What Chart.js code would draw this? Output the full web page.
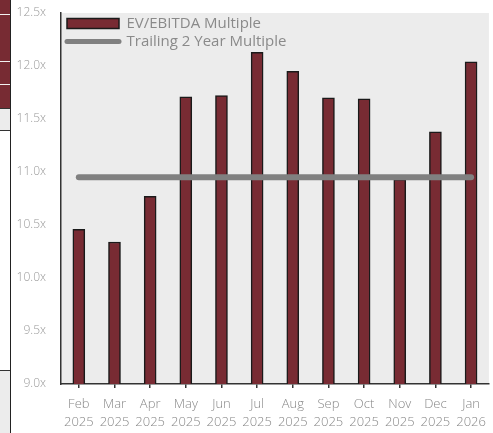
<!DOCTYPE html>
<html>
<head>
<meta charset="utf-8">
<script src="https://cdn.jsdelivr.net/npm/chart.js@4"></script>
<style>
  html, body { margin: 0; padding: 0; background: #ffffff; }
  #wrap { position: relative; width: 493px; height: 433px; overflow: hidden; }
  #wrap canvas { position: absolute; left: 0; top: 0; }
  .strip { position: absolute; left: 0; width: 10px; }
</style>
</head>
<body>
<div id="wrap">
  <!-- cropped neighbouring element on the left edge -->
  <div class="strip" style="top:0;height:108px;background:#772b33;"></div>
  <div class="strip" style="top:14px;height:1px;background:#f2f2f2;"></div>
  <div class="strip" style="top:61px;height:1px;background:#f2f2f2;"></div>
  <div class="strip" style="top:84px;height:1px;background:#f2f2f2;"></div>
  <div class="strip" style="top:108px;height:23px;background:#ececec;border-top:1px solid #333;border-bottom:1px solid #333;box-sizing:border-box;"></div>
  <div class="strip" style="top:370px;height:63px;background:#ececec;border-top:1px solid #333;box-sizing:border-box;"></div>
  <div style="position:absolute;left:10px;top:0;width:1px;height:433px;background:#222;"></div>
  <canvas id="c" width="493" height="433"></canvas>
</div>
<script>
const categories = [
  ['Feb', '2025'], ['Mar', '2025'], ['Apr', '2025'], ['May', '2025'],
  ['Jun', '2025'], ['Jul', '2025'], ['Aug', '2025'], ['Sep', '2025'],
  ['Oct', '2025'], ['Nov', '2025'], ['Dec', '2025'], ['Jan', '2026']
];
const evEbitda = [10.46, 10.34, 10.77, 11.71, 11.72, 12.13, 11.95, 11.70, 11.69, 10.93, 11.38, 12.04];
const trailing2Year = [10.95, 10.95, 10.95, 10.95, 10.95, 10.95, 10.95, 10.95, 10.95, 10.95, 10.95, 10.95];
const yMin = 9.0, yMax = 12.5, yStep = 0.5;

const BAR = '#782b33';
const LINE = '#808080';

const plotBg = {
  id: 'plotBg',
  afterLayout(chart) {
    // keep the legend inside the top-left corner of the plot area
    const l = chart.legend, a = chart.chartArea;
    if (l) {
      l.top = a.top;
      l.bottom = a.bottom;
      l.left = a.left + 3;
    }
  },
  beforeDraw(chart) {
    const a = chart.chartArea, ctx = chart.ctx;
    ctx.save();
    ctx.fillStyle = '#ececec';
    ctx.fillRect(a.left, a.top, a.right - a.left, a.bottom - a.top);
    ctx.restore();
  }
};

new Chart(document.getElementById('c'), {
  data: {
    labels: categories,
    datasets: [
      {
        type: 'bar',
        label: 'EV/EBITDA Multiple',
        data: evEbitda,
        backgroundColor: BAR,
        borderColor: '#1a1a1a',
        borderWidth: 1.5,
        barThickness: 12,
        order: 1
      },
      {
        type: 'line',
        label: 'Trailing 2 Year Multiple',
        data: trailing2Year,
        borderColor: LINE,
        backgroundColor: LINE,
        borderWidth: 6,
        borderCapStyle: 'round',
        pointRadius: 0,
        pointHoverRadius: 0,
        tension: 0,
        order: 0
      }
    ]
  },
  options: {
    responsive: false,
    animation: false,
    layout: { padding: { left: 0, right: 2, top: 13, bottom: 0 } },
    plugins: {
      tooltip: { enabled: false },
      legend: {
        position: 'chartArea',
        align: 'start',
        labels: {
          usePointStyle: true,
          pointStyleWidth: 52,
          boxHeight: 10,
          padding: 3,
          color: '#8a8a8a',
          font: { family: 'Open Sans', size: 15, weight: 'normal' },
          sort: (a, b) => a.datasetIndex - b.datasetIndex,
          generateLabels(chart) {
            const items = Chart.defaults.plugins.legend.labels.generateLabels(chart);
            items.forEach(it => {
              if (it.datasetIndex === 0) {
                it.pointStyle = 'rect';
                it.fillStyle = BAR;
                it.strokeStyle = '#1a1a1a';
                it.lineWidth = 1.5;
              } else {
                it.pointStyle = 'line';
                it.strokeStyle = LINE;
                it.fillStyle = LINE;
                it.lineWidth = 5;
                it.lineCap = 'round';
              }
            });
            return items;
          }
        }
      }
    },
    scales: {
      x: {
        z: 1,
        offset: true,
        grid: { display: true, drawOnChartArea: false, drawTicks: true, tickLength: 4, offset: false, color: '#333333', lineWidth: 1.5 },
        border: { display: true, color: '#333333', width: 1.5 },
        ticks: { color: '#888888', padding: 7, font: { family: 'Open Sans', size: 13, weight: 300, lineHeight: 1.4 }, maxRotation: 0, autoSkip: false },
        afterFit(scale) { scale.height = 49; }
      },
      y: {
        min: yMin, max: yMax,
        grid: { display: false, drawTicks: false },
        border: { display: true, color: '#333333', width: 1.5 },
        ticks: {
          stepSize: yStep,
          color: '#999999',
          padding: 15,
          font: { family: 'Open Sans', size: 12, weight: 300 },
          callback: v => Number(v).toFixed(1) + 'x'
        },
        afterFit(scale) {
          scale.width = 61;
          scale.paddingTop = 0;
          scale.paddingBottom = 0;
        }
      }
    }
  },
  plugins: [plotBg]
});
</script>
</body>
</html>
